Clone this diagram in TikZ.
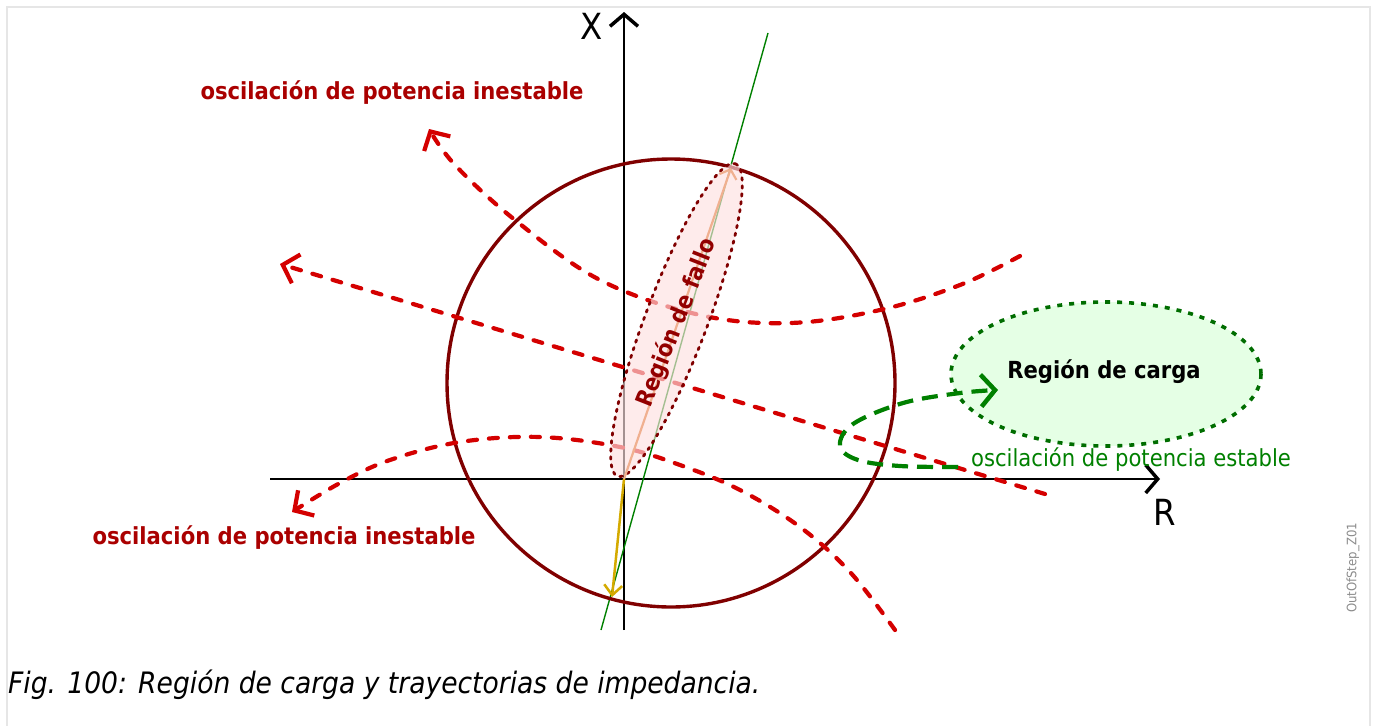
\documentclass[tikz,border=0pt]{standalone}
\usepackage{fontspec}
\setmainfont{DejaVu Sans}[FakeStretch=0.9]
\usetikzlibrary{arrows.meta}
\definecolor{circ}{HTML}{800000}
\definecolor{swing}{HTML}{D40000}
\definecolor{lbl}{HTML}{AA0000}
\definecolor{faultfill}{HTML}{FDE0E0}
\definecolor{salmon}{HTML}{F0B090}
\definecolor{gold}{HTML}{D4AA00}
\definecolor{okgreen}{HTML}{008000}
\definecolor{loadfill}{HTML}{E5FFE5}
\definecolor{frame}{HTML}{E6E6E6}
\tikzset{
  axis/.style={black, line width=2.5, -{Straight Barb[length=12,width=28,line width=3.5]}},
  swingline/.style={swing, line width=4.2, dash pattern=on 9 off 12, line cap=round,
     -{Straight Barb[length=14,width=30,line width=4.2]}},
  lbltext/.style={font=\fontsize{23.5}{28}\selectfont\bfseries, text=lbl, inner sep=0},
}
\begin{document}
\begin{tikzpicture}[x=1pt,y=-1pt]
\useasboundingbox (0,0) rectangle (1375,726);
\draw[frame, line width=2] (7,726) -- (7,7) -- (1370,7) -- (1370,726);

\coordinate (O) at (624,479);
\coordinate (Xbot) at (624,630);
\coordinate (Xtop) at (624,12);
\coordinate (Rleft) at (270,479);
\coordinate (Rright) at (1160,479);
\coordinate (Gb) at (601,630);
\coordinate (Gt) at (768,33);
\coordinate (Ftop) at (731,168);
\coordinate (Ybot) at (612,597);

% axes
\draw[axis] (Xbot) -- (Xtop);
\draw[axis] (Rleft) -- (Rright);
\node[font=\fontsize{36}{40}\selectfont, inner sep=0] (xl) at (592,26) {X};
\node[font=\fontsize{36}{40}\selectfont, inner sep=0] (rl) at (1165,512) {R};

% green line
\draw[okgreen, line width=1.4] (Gb) -- (Gt);

% circle
\draw[circ, line width=3.4] (671,383) circle (224);

% unstable swings
\draw[swingline] plot[smooth, tension=0.6] coordinates {(1020,256) (960,285) (880,310) (790,323) (700,315) (600,280) (515,220) (455,165) (429,129)};
\draw[swingline] (1045,494) -- (280,264);
\draw[swingline] plot[smooth, tension=0.6] coordinates {(895,630) (850,572) (800,527) (740,490) (680,465) (620,447) (540,437) (460,442) (390,460) (340,483) (292,512)};

% fault region
\draw[circ, line width=2.8, dash pattern=on 2.5 off 5.5, line cap=round, fill=faultfill, fill opacity=0.65]
  (676.5,320) ellipse[x radius=167, y radius=31, rotate=69.3];
\draw[salmon, line width=2.2, -{Straight Barb[length=8,width=18,line width=2.2]}] (O) -- (Ftop);
\draw[gold, line width=2.5, -{Straight Barb[length=10,width=18,line width=2.5]}] (O) -- (Ybot);
\node[lbltext, text=circ!85!red, rotate=68.5] (fallo) at (677,323) {Región de fallo};

% load region
\draw[okgreen!85!black, line width=3.6, dash pattern=on 5 off 7, fill=loadfill]
  (1106,374) ellipse[x radius=155, y radius=72];
\node[font=\fontsize{23.5}{28}\selectfont\bfseries, inner sep=0] (carga) at (1104,372) {Región de carga};

% stable swing
\draw[okgreen, line width=4.2, dash pattern=on 16 off 9, -{Straight Barb[length=14,width=32,line width=4.5]}]
  plot[smooth, tension=0.6] coordinates {(958,467) (900,466) (858,460) (840,446) (853,424) (903,403) (960,393) (998,390)};
\node[font=\fontsize{23.5}{28}\selectfont, text=okgreen, inner sep=0] (estable) at (1131,460) {oscilación de potencia estable};

% labels
\node[lbltext] (inU) at (392,93) {oscilación de potencia inestable};
\node[lbltext] (inL) at (284,538) {oscilación de potencia inestable};
\node[font=\fontsize{13}{15}\selectfont, text=black!45, rotate=90, inner sep=0] (tag) at (1353,568) {OutOfStep\_Z01};
\node[font=\fontsize{29.5}{34}\selectfont\itshape, anchor=base west, inner sep=0] (cap) at (8,693) {Fig. 100: Región de carga y trayectorias de impedancia.};
\end{tikzpicture}
\end{document}
